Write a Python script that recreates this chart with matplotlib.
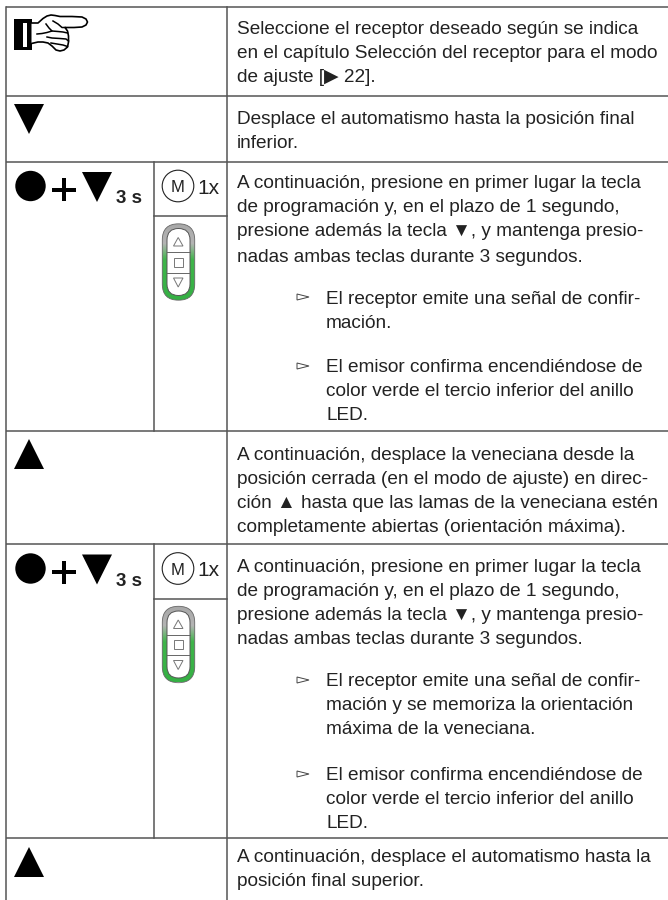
import matplotlib
matplotlib.use('Agg')
import matplotlib.pyplot as plt
import numpy as np
from matplotlib.patches import Circle, Polygon, Rectangle, FancyBboxPatch
from matplotlib.colors import LinearSegmentedColormap

plt.rcParams['font.family'] = ['Liberation Sans', 'DejaVu Sans']

TXT = '#222222'
GRID = '#555555'
FS = 13.65

# table grid, in pixels of the page
row_lines = [7, 96, 162, 431, 544, 838]
split_rows = [(162, 431), (544, 838)]
sub_lines = [216, 599]
col_x = [6, 154, 227]

# (y, text) for the right column
body_lines = [
    (27, 'Seleccione el receptor deseado según se indica'),
    (52, 'en el capítulo Selección del receptor para el modo'),
    (76, 'de ajuste [▶ 22].'),
    (117, 'Desplace el automatismo hasta la posición final'),
    (141, 'inferior.'),
    (182, 'A continuación, presione en primer lugar la tecla'),
    (206, 'de programación y, en el plazo de 1 segundo,'),
    (230, 'presione además la tecla ▼, y mantenga presio-'),
    (255, 'nadas ambas teclas durante 3 segundos.'),
    (453, 'A continuación, desplace la veneciana desde la'),
    (478, 'posición cerrada (en el modo de ajuste) en direc-'),
    (502, 'ción ▲ hasta que las lamas de la veneciana estén'),
    (526, 'completamente abiertas (orientación máxima).'),
    (565, 'A continuación, presione en primer lugar la tecla'),
    (589, 'de programación y, en el plazo de 1 segundo,'),
    (613, 'presione además la tecla ▼, y mantenga presio-'),
    (637, 'nadas ambas teclas durante 3 segundos.'),
    (856, 'A continuación, desplace el automatismo hasta la'),
    (880, 'posición final superior.'),
]
bullet_lines = [
    (297, 'El receptor emite una señal de confir-', True),
    (321, 'mación.', False),
    (366, 'El emisor confirma encendiéndose de', True),
    (390, 'color verde el tercio inferior del anillo', False),
    (414, 'LED.', False),
    (680, 'El receptor emite una señal de confir-', True),
    (704, 'mación y se memoriza la orientación', False),
    (728, 'máxima de la veneciana.', False),
    (774, 'El emisor confirma encendiéndose de', True),
    (798, 'color verde el tercio inferior del anillo', False),
    (822, 'LED.', False),
]
tri_down_tops = [104]
tri_up_tops = [439, 847]
combo_tops = [162, 544.5]

fig = plt.figure(figsize=(6.68, 9.0), dpi=100)
ax = fig.add_axes([0, 0, 1, 1])
ax.set_xlim(0, 668)
ax.set_ylim(900, 0)
ax.axis('off')

# grid
for y in row_lines:
    ax.plot([col_x[0], 668], [y, y], color=GRID, lw=1.1, solid_capstyle='butt')
ax.plot([col_x[0]] * 2, [row_lines[0], 900], color=GRID, lw=1.1)
ax.plot([col_x[2]] * 2, [row_lines[0], 900], color=GRID, lw=1.1)
for top, bot in split_rows:
    ax.plot([col_x[1]] * 2, [top, bot], color=GRID, lw=1.1)
for y in sub_lines:
    ax.plot([col_x[1], col_x[2]], [y, y], color=GRID, lw=1.1)

# text
for y, s in body_lines:
    ax.text(237, y, s, fontsize=FS, color=TXT, va='center_baseline')
for y, s, first in bullet_lines:
    if first:
        ax.add_patch(Polygon([[297, y - 3], [297, y + 3], [309, y]], closed=True,
                             fc='white', ec='#444444', lw=0.7))
    ax.text(326, y, s, fontsize=FS, color=TXT, va='center_baseline')


def tri(top, x0=14, up=False):
    if up:
        pts = [[x0, top + 30], [x0 + 30, top + 30], [x0 + 15, top]]
    else:
        pts = [[x0, top], [x0 + 30, top], [x0 + 15, top + 30]]
    ax.add_patch(Polygon(pts, closed=True, fc='black', ec='none'))


for t in tri_down_tops:
    tri(t)
for t in tri_up_tops:
    tri(t, up=True)

green = LinearSegmentedColormap.from_list(
    'ring', [(0, '#a8a8a8'), (0.25, '#b4b4b4'), (0.47, '#3fb54a'), (1, '#35b044')])


def combo(y0):
    # dot + down 3 s
    ax.add_patch(Circle((30.5, y0 + 24), 15.2, fc='black', ec='none'))
    ax.add_patch(Rectangle((52, y0 + 25.5), 24, 4, fc='black', ec='none'))
    ax.add_patch(Rectangle((62, y0 + 16), 4, 23, fc='black', ec='none'))
    tri(y0 + 10, x0=82)
    ax.text(116, y0 + 34.5, '3 s', fontsize=13.5, fontweight='bold', color='#222222',
            va='center_baseline')

    # M key
    ax.add_patch(Circle((178, y0 + 24), 15.8, fc='white', ec='#222222', lw=0.8))
    ax.text(178, y0 + 24.5, 'M', fontsize=12, color=TXT, ha='center', va='center_baseline')
    ax.text(197, y0 + 24.5, '1x', fontsize=15, color=TXT, va='center_baseline')

    # remote ring
    top = y0 + 62
    ring = FancyBboxPatch((178.5, top + 16), 0.01, 44, boxstyle='round,pad=16.2,rounding_size=16.2',
                          fc='none', ec='none')
    ax.add_patch(ring)
    grad = np.linspace(0, 1, 100).reshape(-1, 1)
    im = ax.imshow(grad, cmap=green, extent=[162, 195, top + 76, top], aspect='auto', zorder=2)
    im.set_clip_path(ring)
    ax.add_patch(FancyBboxPatch((178.5, top + 16), 0.01, 44, boxstyle='round,pad=16.2,rounding_size=16.2',
                                fc='none', ec='#666666', lw=0.6, zorder=3))
    ax.add_patch(FancyBboxPatch((178.5, top + 16), 0.01, 44, boxstyle='round,pad=11.5,rounding_size=11.5',
                                fc='white', ec='#555555', lw=0.7, zorder=3))
    for dy in (28, 48.5):
        ax.plot([167, 190], [top + dy, top + dy], color='#666666', lw=0.7, zorder=4)
    c = '#777777'
    ax.add_patch(Polygon([[173.5, top + 22], [183, top + 22], [178.2, top + 13.5]], closed=True,
                         fc='white', ec=c, lw=0.7, zorder=4))
    ax.add_patch(Rectangle((173.5, top + 33.5), 9.5, 9, fc='white', ec=c, lw=0.7, zorder=4))
    ax.add_patch(Polygon([[173.5, top + 54], [183, top + 54], [178.2, top + 63]], closed=True,
                         fc='white', ec=c, lw=0.7, zorder=4))


for y0 in combo_tops:
    combo(y0)

# pointing hand
ax.add_patch(Rectangle((14, 19), 17.5, 31, fc='black', ec='none'))
ax.add_patch(Rectangle((22.5, 22.5), 4, 24, fc='white', ec='none'))
hand_outline = [(31.5, 23), (38, 23), (43, 18.5), (47, 16), (51, 15), (55, 15.5), (60, 16.5),
                (72, 16.5), (82, 17), (86, 19), (87.5, 22), (86, 25), (82, 27), (74, 27.5),
                (65, 27.5), (67.5, 31), (68.5, 36), (68.5, 42), (67.5, 47), (64, 50), (60, 51),
                (56, 50), (52, 46), (48, 43), (43, 42), (38, 42), (31.5, 43.5)]
hand_inner = [
    [(53, 21), (58, 24), (62, 27.5), (65, 27.5)],
    [(46, 24), (49, 28), (52, 31), (47, 32.5), (42, 33.5), (37, 34)],
    [(52, 31), (58, 31.5), (63, 32), (67.5, 33)],
    [(47, 37), (52, 38), (60, 38.5), (66, 39), (68.5, 41)],
    [(51, 43), (57, 44), (63, 45), (67.5, 46.5)],
]
ax.add_patch(Polygon(hand_outline, closed=False, fc='white', ec='black', lw=1.2,
                     joinstyle='round', capstyle='round', zorder=3))
for seg in hand_inner:
    xs, ys = zip(*seg)
    ax.plot(xs, ys, color='black', lw=1.1, solid_joinstyle='round', zorder=4)

fig.savefig('out.png', dpi=100)
